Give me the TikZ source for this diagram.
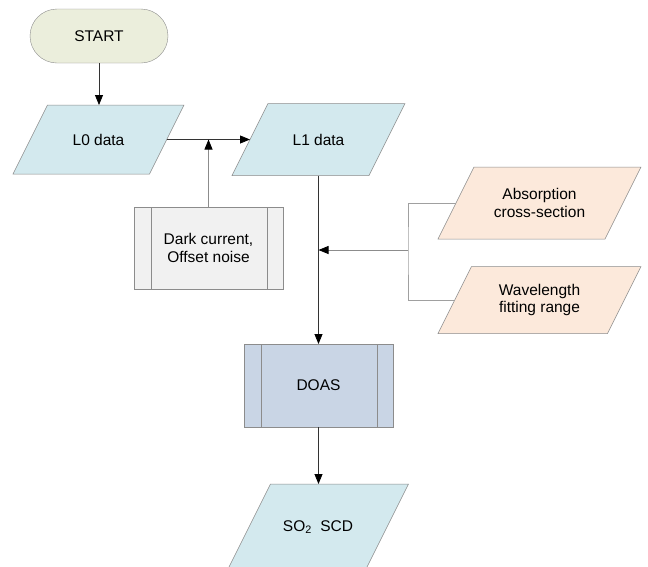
\documentclass[tikz,border=0pt]{standalone}
\usepackage{fontspec}
\setmainfont{Liberation Sans}
\usetikzlibrary{arrows.meta,backgrounds}
\definecolor{startfill}{HTML}{EBEEDC}
\definecolor{datafill}{HTML}{D3E9EE}
\definecolor{inputfill}{HTML}{FCE9DB}
\definecolor{dcfill}{HTML}{F1F1F1}
\definecolor{doasfill}{HTML}{C9D5E5}
\definecolor{edgegray}{HTML}{8C8C8C}
\definecolor{darkline}{HTML}{333333}
\definecolor{lightline}{HTML}{A0A0A0}
\tikzset{
  every node/.style={font=\fontsize{15.5}{17.5}\selectfont, align=center, outer sep=0pt, inner sep=0pt},
  startbox/.style={draw=edgegray, fill=startfill, rounded corners=27pt, minimum width=138pt, minimum height=54pt},
  databox/.style={rectangle, draw=none},
  procbox/.style={draw=edgegray, fill=#1, rectangle, minimum width=149pt},
  paraline/.style={draw=edgegray, line width=0.5pt},
  tip/.style={-{Triangle[length=10pt,width=8pt,color=black]}},
  conn/.style={darkline, line width=0.8pt, tip},
  grayconn/.style={edgegray, line width=0.8pt, tip},
  bracketline/.style={lightline, line width=0.8pt},
  sideline/.style={edgegray, line width=0.5pt}
}
% parallelogram behind a named node: #1 node name, #2 fill colour, #3 slant offset
\newcommand\paraback[3]{%
  \begin{scope}[on background layer]
    \filldraw[paraline, fill=#2] ([xshift=#3]#1.north west) -- (#1.north east)
      -- ([xshift=-#3]#1.south east) -- (#1.south west) -- cycle;
  \end{scope}}
\begin{document}
\begin{tikzpicture}[x=1pt,y=-1pt]
\useasboundingbox (0,0) rectangle (648,566);
\clip (0,0) rectangle (648,566);
\begin{scope}[on background layer]
  \fill[white] (0,0) rectangle (648,566);
\end{scope}

\node[startbox] (start) at (99,36) {START};

\node[databox, minimum width=171pt, minimum height=69pt] (l0) at (98.5,139.5) {L0 data};
\paraback{l0}{datafill}{34.5pt}
\coordinate (l0e) at ([xshift=-17.25pt]l0.east);

\node[databox, minimum width=173pt, minimum height=72pt] (l1) at (318.5,139.5) {L1 data};
\paraback{l1}{datafill}{36pt}
\coordinate (l1w) at ([xshift=18pt]l1.west);

\node[procbox=dcfill, minimum height=82pt] (dc) at (208.5,248) {Dark current,\\Offset noise};
\draw[sideline] ([xshift=17pt]dc.north west) -- ([xshift=17pt]dc.south west)
                ([xshift=-16pt]dc.north east) -- ([xshift=-16pt]dc.south east);

\node[databox, minimum width=203pt, minimum height=72pt] (abs) at (539.5,203) {Absorption\\cross-section};
\paraback{abs}{inputfill}{36pt}
\coordinate (absw) at ([xshift=18pt]abs.west);

\node[databox, minimum width=203pt, minimum height=67pt] (wav) at (539.5,300) {Wavelength\\fitting range};
\paraback{wav}{inputfill}{33.5pt}
\coordinate (wavw) at ([xshift=16.75pt]wav.west);

\node[procbox=doasfill, minimum height=83pt] (doas) at (318.5,385.5) {DOAS};
\draw[sideline] ([xshift=17pt]doas.north west) -- ([xshift=17pt]doas.south west)
                ([xshift=-16pt]doas.north east) -- ([xshift=-16pt]doas.south east);

\node[databox, minimum width=181pt, minimum height=86pt] (so2) at (318,527) {SO\textsubscript{2}\hspace{0.55em}SCD};
\paraback{so2}{datafill}{43pt}

\draw[conn] (start) -- (start.south |- l0.north);
\draw[conn] (l0e) -- (l1w);
\coordinate (jdc) at (dc.north |- l0e);
\draw[grayconn] (dc.north) -- (jdc);
\draw[conn] (l1.south) -- (doas.north);
\coordinate (br) at (408,250);
\draw[bracketline] (absw) -| (br) |- (wavw);
\coordinate (jin) at (l1.south |- br);
\draw[grayconn] (br) -- (jin);
\draw[conn] (doas.south) -- (doas.south |- so2.north);
\end{tikzpicture}
\end{document}
